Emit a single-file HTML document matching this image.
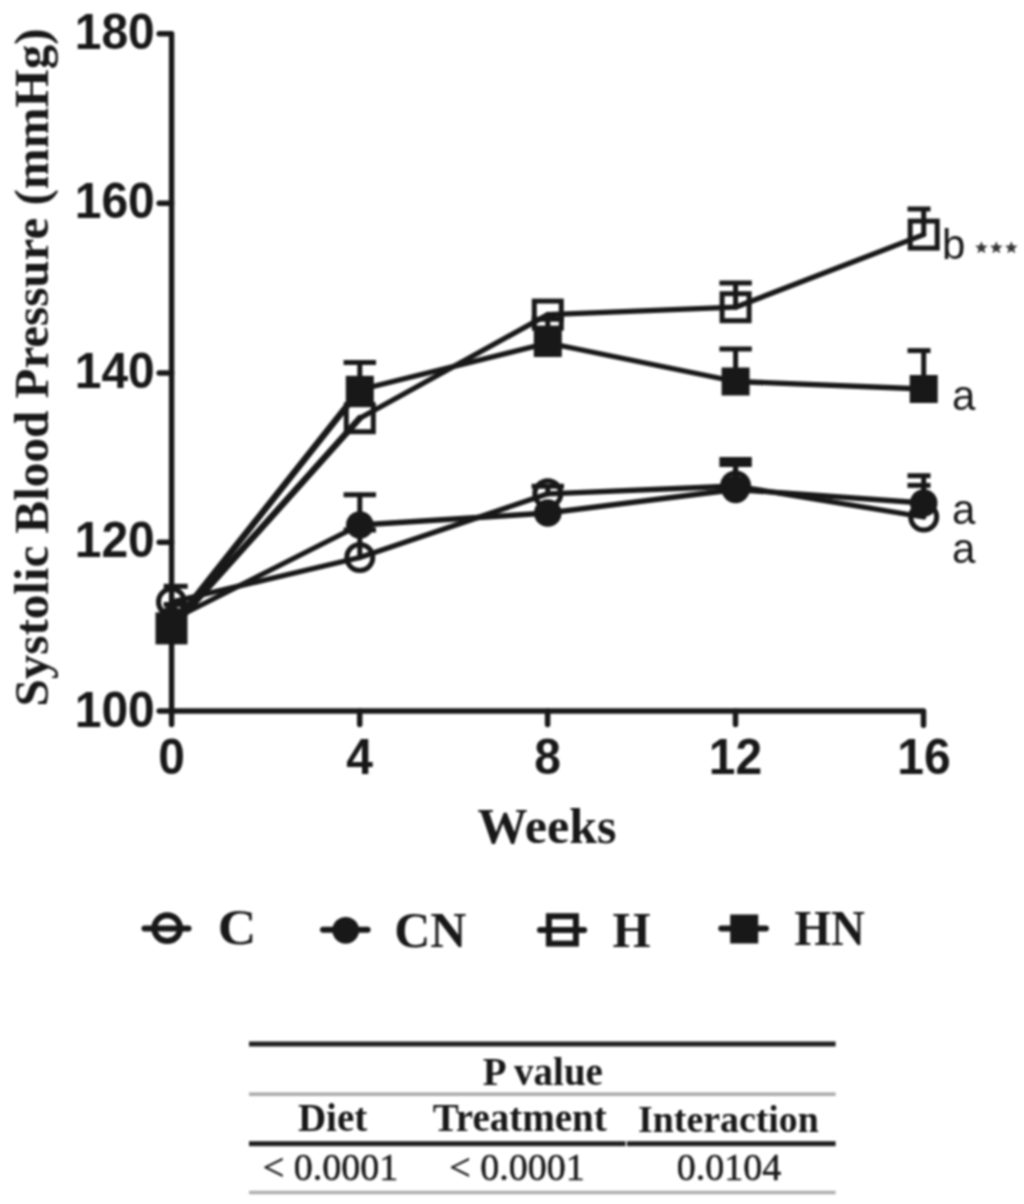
<!DOCTYPE html>
<html><head><meta charset="utf-8"><style>
html,body{margin:0;padding:0;background:#fff;}
body{width:1024px;height:1204px;overflow:hidden;}
svg{display:block;filter:blur(1px);}
</style></head><body>
<svg width="1024" height="1204" viewBox="0 0 1024 1204" fill="#181818">
<g stroke="#181818" stroke-width="5.5" fill="none" stroke-linecap="round" stroke-linejoin="round">
<path d="M159.2,33.7 H171.6 V724.5" />
<line x1="159.2" y1="203.3" x2="171.6" y2="203.3" />
<line x1="159.2" y1="372.9" x2="171.6" y2="372.9" />
<line x1="159.2" y1="542.3" x2="171.6" y2="542.3" />
<line x1="159.2" y1="711" x2="171.6" y2="711" />
<path d="M171.6,711 H923.5 V725.3" />
<line x1="359.7" y1="711" x2="359.7" y2="724.5" />
<line x1="547.6" y1="711" x2="547.6" y2="724.5" />
<line x1="735.5" y1="711" x2="735.5" y2="724.5" />
</g>
<line x1="171.5" y1="602" x2="171.5" y2="586.3" stroke="#181818" stroke-width="5" /><line x1="163.7" y1="586.3" x2="187.7" y2="586.3" stroke="#181818" stroke-width="5" stroke-linecap="butt" />
<line x1="359.8" y1="557.5" x2="359.8" y2="530" stroke="#181818" stroke-width="5" /><line x1="343.6" y1="530" x2="376.0" y2="530" stroke="#181818" stroke-width="5" stroke-linecap="butt" />
<line x1="547.8" y1="493.8" x2="547.8" y2="486.2" stroke="#181818" stroke-width="5" /><line x1="531.5999999999999" y1="486.2" x2="564.0" y2="486.2" stroke="#181818" stroke-width="5" stroke-linecap="butt" />
<line x1="735.6" y1="486" x2="735.6" y2="459.6" stroke="#181818" stroke-width="5" /><line x1="719.4" y1="459.6" x2="751.8000000000001" y2="459.6" stroke="#181818" stroke-width="5" stroke-linecap="butt" />
<line x1="923.7" y1="517" x2="923.7" y2="475.7" stroke="#181818" stroke-width="5" /><line x1="907.5" y1="475.7" x2="930.5" y2="475.7" stroke="#181818" stroke-width="5" stroke-linecap="butt" />
<line x1="171.5" y1="602" x2="359.8" y2="557.5" stroke="#181818" stroke-width="5.3" stroke-linecap="round" /><line x1="359.8" y1="557.5" x2="547.8" y2="493.8" stroke="#181818" stroke-width="5.3" stroke-linecap="round" /><line x1="547.8" y1="493.8" x2="735.6" y2="486" stroke="#181818" stroke-width="5.3" stroke-linecap="round" /><line x1="735.6" y1="486" x2="923.7" y2="517" stroke="#181818" stroke-width="5.3" stroke-linecap="round" />
<circle cx="171.5" cy="602" r="13" fill="none" stroke="#181818" stroke-width="5" />
<circle cx="359.8" cy="557.5" r="13" fill="none" stroke="#181818" stroke-width="5" />
<circle cx="547.8" cy="493.8" r="13" fill="none" stroke="#181818" stroke-width="5" />
<circle cx="735.6" cy="486" r="13" fill="none" stroke="#181818" stroke-width="5" />
<circle cx="923.7" cy="517" r="13" fill="none" stroke="#181818" stroke-width="5" />
<line x1="171.5" y1="620" x2="171.5" y2="604.5" stroke="#181818" stroke-width="5" /><line x1="163.7" y1="604.5" x2="187.7" y2="604.5" stroke="#181818" stroke-width="5" stroke-linecap="butt" />
<line x1="359.8" y1="525" x2="359.8" y2="494.7" stroke="#181818" stroke-width="5" /><line x1="343.6" y1="494.7" x2="376.0" y2="494.7" stroke="#181818" stroke-width="5" stroke-linecap="butt" />
<line x1="735.6" y1="489.5" x2="735.6" y2="464.6" stroke="#181818" stroke-width="5" /><line x1="719.4" y1="464.6" x2="751.8000000000001" y2="464.6" stroke="#181818" stroke-width="5" stroke-linecap="butt" />
<line x1="923.7" y1="503" x2="923.7" y2="485.4" stroke="#181818" stroke-width="5" /><line x1="907.5" y1="485.4" x2="930.5" y2="485.4" stroke="#181818" stroke-width="5" stroke-linecap="butt" />
<line x1="171.5" y1="620" x2="359.8" y2="525" stroke="#181818" stroke-width="5.3" stroke-linecap="round" /><line x1="359.8" y1="525" x2="547.8" y2="513" stroke="#181818" stroke-width="5.3" stroke-linecap="round" /><line x1="547.8" y1="513" x2="735.6" y2="489.5" stroke="#181818" stroke-width="5.3" stroke-linecap="round" /><line x1="735.6" y1="489.5" x2="923.7" y2="503" stroke="#181818" stroke-width="5.3" stroke-linecap="round" />
<circle cx="171.5" cy="620" r="13.8" fill="#181818" />
<circle cx="359.8" cy="525" r="13.8" fill="#181818" />
<circle cx="547.8" cy="513" r="13.8" fill="#181818" />
<circle cx="735.6" cy="489.5" r="13.8" fill="#181818" />
<circle cx="923.7" cy="503" r="13.8" fill="#181818" />
<line x1="735.6" y1="307.2" x2="735.6" y2="283" stroke="#181818" stroke-width="5" /><line x1="719.4" y1="283" x2="751.8000000000001" y2="283" stroke="#181818" stroke-width="5" stroke-linecap="butt" />
<line x1="923.7" y1="234.6" x2="923.7" y2="209" stroke="#181818" stroke-width="5" /><line x1="907.5" y1="209" x2="930.5" y2="209" stroke="#181818" stroke-width="5" stroke-linecap="butt" />
<line x1="171.5" y1="628.4" x2="359.8" y2="418.2" stroke="#181818" stroke-width="6.5" stroke-linecap="round" /><line x1="359.8" y1="418.2" x2="547.8" y2="314.6" stroke="#181818" stroke-width="5.3" stroke-linecap="round" /><line x1="547.8" y1="314.6" x2="735.6" y2="307.2" stroke="#181818" stroke-width="5.3" stroke-linecap="round" /><line x1="735.6" y1="307.2" x2="923.7" y2="234.6" stroke="#181818" stroke-width="5.3" stroke-linecap="round" />
<rect x="158.0" y="614.9" width="27" height="27" fill="none" stroke="#181818" stroke-width="5" />
<rect x="346.3" y="404.7" width="27" height="27" fill="none" stroke="#181818" stroke-width="5" />
<rect x="534.3" y="301.1" width="27" height="27" fill="none" stroke="#181818" stroke-width="5" />
<rect x="722.1" y="293.7" width="27" height="27" fill="none" stroke="#181818" stroke-width="5" />
<rect x="910.2" y="221.1" width="27" height="27" fill="none" stroke="#181818" stroke-width="5" />
<line x1="359.8" y1="389.8" x2="359.8" y2="362.5" stroke="#181818" stroke-width="5" /><line x1="343.6" y1="362.5" x2="376.0" y2="362.5" stroke="#181818" stroke-width="5" stroke-linecap="butt" />
<line x1="547.8" y1="343" x2="547.8" y2="319.3" stroke="#181818" stroke-width="5" /><line x1="531.5999999999999" y1="319.3" x2="564.0" y2="319.3" stroke="#181818" stroke-width="5" stroke-linecap="butt" />
<line x1="735.6" y1="381.5" x2="735.6" y2="349" stroke="#181818" stroke-width="5" /><line x1="719.4" y1="349" x2="751.8000000000001" y2="349" stroke="#181818" stroke-width="5" stroke-linecap="butt" />
<line x1="923.7" y1="389" x2="923.7" y2="350.6" stroke="#181818" stroke-width="5" /><line x1="907.5" y1="350.6" x2="930.5" y2="350.6" stroke="#181818" stroke-width="5" stroke-linecap="butt" />
<line x1="171.5" y1="627" x2="359.8" y2="389.8" stroke="#181818" stroke-width="6.5" stroke-linecap="round" /><line x1="359.8" y1="389.8" x2="547.8" y2="343" stroke="#181818" stroke-width="5.3" stroke-linecap="round" /><line x1="547.8" y1="343" x2="735.6" y2="381.5" stroke="#181818" stroke-width="5.3" stroke-linecap="round" /><line x1="735.6" y1="381.5" x2="923.7" y2="389" stroke="#181818" stroke-width="5.3" stroke-linecap="round" />
<rect x="157.5" y="613.0" width="28" height="28" fill="#181818" />
<rect x="345.8" y="375.8" width="28" height="28" fill="#181818" />
<rect x="533.8" y="329.0" width="28" height="28" fill="#181818" />
<rect x="721.6" y="367.5" width="28" height="28" fill="#181818" />
<rect x="909.7" y="375.0" width="28" height="28" fill="#181818" />
<g stroke="#181818" stroke-width="6" fill="none" stroke-linecap="round">
<line x1="144.5" y1="928.5" x2="188.5" y2="928.5" />
<line x1="323" y1="929.8" x2="367.6" y2="929.8" />
<line x1="540" y1="930" x2="584.1" y2="930" />
<line x1="721.3" y1="928.6" x2="765.9" y2="928.6" />
</g>
<circle cx="167.2" cy="928.2" r="12.9" fill="none" stroke="#181818" stroke-width="6" />
<circle cx="345.7" cy="930.3" r="13.4" fill="#181818" />
<rect x="548.9" y="916.1999999999999" width="27" height="27.4" fill="none" stroke="#181818" stroke-width="6" />
<rect x="730.2" y="914.5" width="28" height="29" fill="#181818" />
<text transform="translate(154.8,48.7) scale(0.96,1)" text-anchor="end" font-size="50" font-family="Liberation Sans, sans-serif" font-weight="bold">180</text>
<text transform="translate(154.8,218.3) scale(0.96,1)" text-anchor="end" font-size="50" font-family="Liberation Sans, sans-serif" font-weight="bold">160</text>
<text transform="translate(154.8,387.9) scale(0.96,1)" text-anchor="end" font-size="50" font-family="Liberation Sans, sans-serif" font-weight="bold">140</text>
<text transform="translate(154.8,557.3) scale(0.96,1)" text-anchor="end" font-size="50" font-family="Liberation Sans, sans-serif" font-weight="bold">120</text>
<text transform="translate(154.8,726.5) scale(0.96,1)" text-anchor="end" font-size="50" font-family="Liberation Sans, sans-serif" font-weight="bold">100</text>
<text transform="translate(171.5,774) scale(0.96,1)" text-anchor="middle" font-size="50" font-family="Liberation Sans, sans-serif" font-weight="bold">0</text>
<text transform="translate(359.6,774) scale(0.96,1)" text-anchor="middle" font-size="50" font-family="Liberation Sans, sans-serif" font-weight="bold">4</text>
<text transform="translate(547.5,774) scale(0.96,1)" text-anchor="middle" font-size="50" font-family="Liberation Sans, sans-serif" font-weight="bold">8</text>
<text transform="translate(735.4,774) scale(0.96,1)" text-anchor="middle" font-size="50" font-family="Liberation Sans, sans-serif" font-weight="bold">12</text>
<text transform="translate(923.9,774) scale(0.96,1)" text-anchor="middle" font-size="50" font-family="Liberation Sans, sans-serif" font-weight="bold">16</text>
<text x="547" y="842.7" text-anchor="middle" font-size="50" font-family="Liberation Serif, serif" font-weight="bold">Weeks</text>
<text transform="translate(47.8,706.5) rotate(-90)" x="0" y="0" font-size="48" font-family="Liberation Serif, serif" font-weight="bold" textLength="678" lengthAdjust="spacingAndGlyphs">Systolic Blood Pressure (mmHg)</text>
<text x="942" y="258.8" font-size="42" font-family="Liberation Sans, sans-serif">b</text>
<polygon fill="#333" points="981.40,241.20 983.10,245.45 987.68,245.76 984.16,248.70 985.28,253.14 981.40,250.70 977.52,253.14 978.64,248.70 975.12,245.76 979.70,245.45" />
<polygon fill="#333" points="996.30,241.20 998.00,245.45 1002.58,245.76 999.06,248.70 1000.18,253.14 996.30,250.70 992.42,253.14 993.54,248.70 990.02,245.76 994.60,245.45" />
<polygon fill="#333" points="1011.30,241.20 1013.00,245.45 1017.58,245.76 1014.06,248.70 1015.18,253.14 1011.30,250.70 1007.42,253.14 1008.54,248.70 1005.02,245.76 1009.60,245.45" />
<text x="952" y="410" font-size="42" font-family="Liberation Sans, sans-serif">a</text>
<text x="952" y="523.5" font-size="42" font-family="Liberation Sans, sans-serif">a</text>
<text x="952" y="562.5" font-size="42" font-family="Liberation Sans, sans-serif">a</text>
<text transform="translate(217.8,943.8) scale(1.06,1)" font-size="50.5" font-family="Liberation Serif, serif" font-weight="bold">C</text>
<text transform="translate(394.2,946.8) scale(0.99,1)" font-size="50.5" font-family="Liberation Serif, serif" font-weight="bold">CN</text>
<text transform="translate(612.4,946.8) scale(0.97,1)" font-size="50.5" font-family="Liberation Serif, serif" font-weight="bold">H</text>
<text transform="translate(794.5,944.6) scale(0.93,1)" font-size="50.5" font-family="Liberation Serif, serif" font-weight="bold">HN</text>
<rect x="249" y="1041.5" width="586.6" height="5" fill="#202020" />
<rect x="249" y="1092.4" width="586.6" height="3.6" fill="#ababab" />
<rect x="249" y="1141.2" width="376.6" height="5" fill="#202020" />
<rect x="627" y="1141.2" width="208.6" height="5" fill="#202020" />
<rect x="249" y="1190.8" width="586.6" height="3.4" fill="#adadad" />
<text x="542.8" y="1084.8" text-anchor="middle" font-size="39" font-family="Liberation Serif, serif" font-weight="bold">P value</text>
<text x="332.6" y="1131" text-anchor="middle" font-size="39" font-family="Liberation Serif, serif" font-weight="bold">Diet</text>
<text x="519.7" y="1131" text-anchor="middle" font-size="39" font-family="Liberation Serif, serif" font-weight="bold">Treatment</text>
<text transform="translate(728.4,1132) scale(0.97,1)" text-anchor="middle" font-size="39" font-family="Liberation Serif, serif" font-weight="bold">Interaction</text>
<text x="330.5" y="1180" text-anchor="middle" font-size="38" font-family="Liberation Serif, serif" stroke="#181818" stroke-width="0.5">&lt; 0.0001</text>
<text x="517" y="1180" text-anchor="middle" font-size="38" font-family="Liberation Serif, serif" stroke="#181818" stroke-width="0.5">&lt; 0.0001</text>
<text x="729" y="1180" text-anchor="middle" font-size="38" font-family="Liberation Serif, serif" stroke="#181818" stroke-width="0.5">0.0104</text>
</svg>
</body></html>
